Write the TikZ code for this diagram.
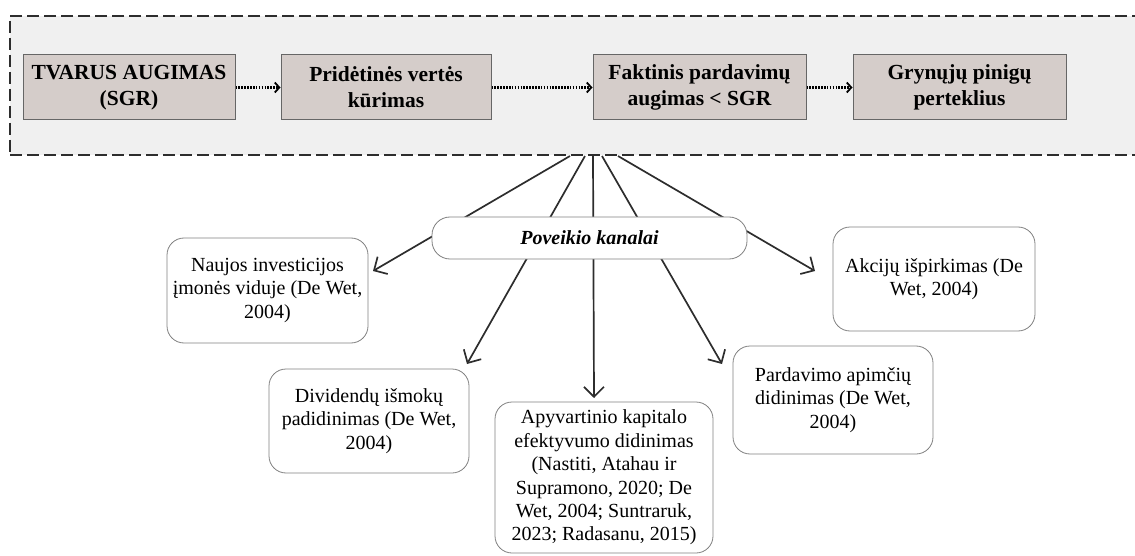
\documentclass[tikz,border=0pt]{standalone}
\usepackage{fontspec}
\setmainfont{Liberation Serif}
\usetikzlibrary{arrows.meta}
\definecolor{groupfill}{RGB}{240,240,240}
\definecolor{stagefill}{RGB}{213,205,202}
\definecolor{lineg}{RGB}{45,45,45}
\begin{document}
\begin{tikzpicture}[x=1pt,y=-1pt,
  groupbox/.style={draw=lineg,fill=groupfill,line width=2.8pt,dash pattern=on 12pt off 5pt,inner sep=0pt,minimum width=1135pt,minimum height=139pt},
  stagebox/.style={draw=black!60,fill=stagefill,line width=1pt,inner sep=0pt,minimum height=65pt,align=center,font=\fontsize{21.5}{26}\selectfont\bfseries},
  chanbox/.style={draw=black!50,fill=white,line width=0.8pt,rounded corners=17pt,inner sep=0pt,align=center,font=\fontsize{20}{23.4}\selectfont},
  flowarrow/.style={draw=black,line width=2.3pt,dash pattern=on 1.6pt off 1.3pt,-{Straight Barb[length=4.5pt,width=10pt,line width=1.8pt]}},
  fanarrow/.style={draw=lineg,line width=1.7pt,-{Straight Barb[length=10pt,width=20pt,line width=1.7pt]}}
]
\useasboundingbox (0,0) rectangle (1135,556);
\clip (0,0) rectangle (1135,556);
\node[groupbox] (grp) at (577.5,85.5) {};
\node[stagebox,minimum width=212pt] (s1) at (129,87.5) {TVARUS AUGIMAS\\(SGR)};
\node[stagebox,minimum width=210pt] (s2) at (386,87.5) {Pridėtinės vertės\\kūrimas};
\node[stagebox,minimum width=213pt] (s3) at (699.5,87.5) {Faktinis pardavimų\\augimas < SGR};
\node[stagebox,minimum width=213pt] (s4) at (959.5,87.5) {Grynųjų pinigų\\perteklius};
\draw[flowarrow] (s1.east) -- (s2.west);
\draw[flowarrow] (s2.east) -- (s3.west);
\draw[flowarrow] (s3.east) -- (s4.west);

\node[chanbox,minimum width=201pt,minimum height=105pt] (c1) at (267.5,290.5) {Naujos investicijos\\įmonės viduje (De Wet,\\2004)};
\node[chanbox,minimum width=200pt,minimum height=104pt] (c2) at (369,421) {Dividendų išmokų\\padidinimas (De Wet,\\2004)};
\node[chanbox,minimum width=218pt,minimum height=151pt] (c3) at (604,477.5) {Apyvartinio kapitalo\\efektyvumo didinimas\\(Nastiti, Atahau ir\\Supramono, 2020; De\\Wet, 2004; Suntraruk,\\2023; Radasanu, 2015)};
\node[chanbox,minimum width=200pt,minimum height=108pt] (c4) at (833,400) {Pardavimo apimčių\\didinimas (De Wet,\\2004)};
\node[chanbox,minimum width=202pt,minimum height=104pt] (c5) at (934,279) {Akcijų išpirkimas (De\\Wet, 2004)};

\coordinate (f1) at (570,156);
\coordinate (f2) at (585,156);
\coordinate (f3) at (593,156);
\coordinate (f4) at (602,156);
\coordinate (f5) at (618,156);
\coordinate (t1) at (373,271);
\coordinate (t2) at (467,364);
\coordinate (t3) at (594,398);
\coordinate (t4) at (722,364);
\coordinate (t5) at (815,271);
\draw[fanarrow] (f1) -- (t1);
\draw[fanarrow] (f2) -- (t2);
\draw[fanarrow] (f3) -- (t3);
\draw[fanarrow] (f4) -- (t4);
\draw[fanarrow] (f5) -- (t5);

\node[chanbox,rounded corners=18pt,minimum width=315pt,minimum height=42pt,font=\fontsize{20}{23.4}\selectfont\bfseries\itshape] (pk) at (589.5,238) {Poveikio kanalai};
\end{tikzpicture}
\end{document}
